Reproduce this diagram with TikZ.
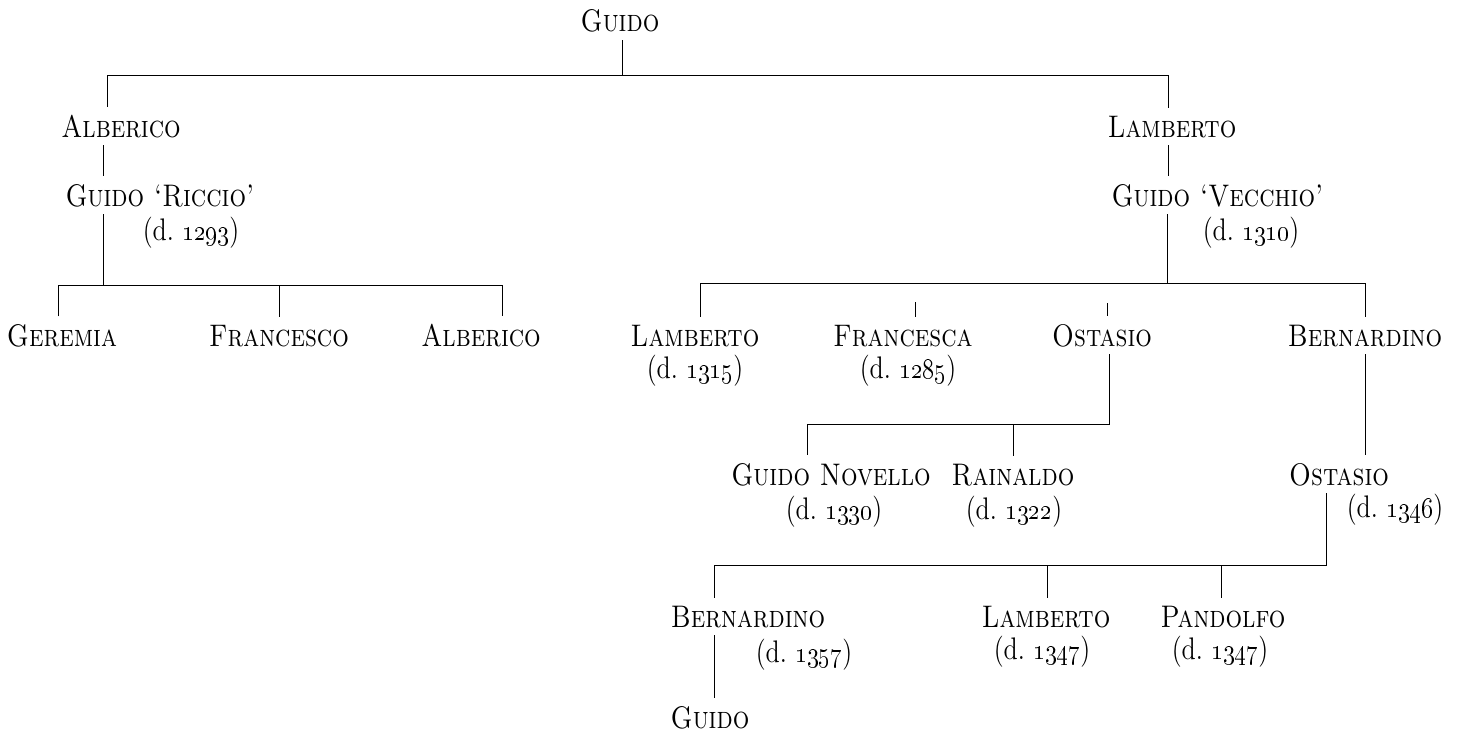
\documentclass[tikz,border=0pt]{standalone}
\usepackage{graphicx}
\usepackage{tikz}
\usetikzlibrary{calc,positioning}

\newcommand{\pname}[1]{\scalebox{1}[1.2]{\scshape #1}}
\newcommand{\pdied}[1]{\scalebox{1}[1.2]{(d.~\oldstylenums{#1})}}

\begin{document}
\begin{tikzpicture}[x=0.5pt,y=-0.5pt,line width=0.5pt,
    person/.style={inner xsep=0pt,inner ysep=3.6pt,anchor=base,font=\fontsize{13}{15}\selectfont},
    died/.style={person}]
  \useasboundingbox (0,0) rectangle (1466,733);

  % persons
  \node[person] (guido) at (620,32) {\pname{Guido}};
  \node[person] (alberico) at (121,137) {\pname{Alberico}};
  \node[person] (lamberto) at (1172,137) {\pname{Lamberto}};
  \node[person,anchor=base west] (riccio) at (65,206) {\pname{Guido `Riccio'}};
  \node[died] (riccio-d) at (191,240) {\pdied{1293}};
  \node[person,anchor=base west] (vecchio) at (1111,206) {\pname{Guido `Vecchio'}};
  \node[died] (vecchio-d) at (1251,240) {\pdied{1310}};

  \node[person] (geremia) at (62,346) {\pname{Geremia}};
  \node[person] (francesco) at (279,346) {\pname{Francesco}};
  \node[person] (alberico2) at (481,346) {\pname{Alberico}};

  \node[person] (lamberto2) at (695,346) {\pname{Lamberto}};
  \node[died] (lamberto2-d) at (695,378) {\pdied{1315}};
  \node[person] (francesca) at (903,346) {\pname{Francesca}};
  \node[died] (francesca-d) at (908,378) {\pdied{1285}};
  \node[person] (ostasio) at (1102,346) {\pname{Ostasio}};
  \node[person] (bernardino) at (1365,346) {\pname{Bernardino}};

  \node[person] (novello) at (831,485) {\pname{Guido Novello}};
  \node[died] (novello-d) at (834,519) {\pdied{1330}};
  \node[person] (rainaldo) at (1013,485) {\pname{Rainaldo}};
  \node[died] (rainaldo-d) at (1014,519) {\pdied{1322}};
  \node[person] (ostasio2) at (1339,485) {\pname{Ostasio}};
  \node[died] (ostasio2-d) at (1395,517) {\pdied{1346}};

  \node[person] (bernardino2) at (748,627) {\pname{Bernardino}};
  \node[died] (bernardino2-d) at (804,662) {\pdied{1357}};
  \node[person] (lamberto3) at (1046,627) {\pname{Lamberto}};
  \node[died] (lamberto3-d) at (1042,659) {\pdied{1347}};
  \node[person] (pandolfo) at (1223,627) {\pname{Pandolfo}};
  \node[died] (pandolfo-d) at (1220,659) {\pdied{1347}};
  \node[person] (guido3) at (710,728) {\pname{Guido}};

  % bars
  \coordinate (b1) at (622,76);
  \coordinate (b1l) at (107,76);
  \coordinate (b1r) at (1168,76);
  \coordinate (b2) at (103,285);
  \coordinate (b2l) at (58,285);
  \coordinate (b2r) at (502,285);
  \coordinate (b3) at (1167,283);
  \coordinate (b3l) at (700,283);
  \coordinate (b3r) at (1365,283);
  \coordinate (f-top) at (915,302);
  \coordinate (o-top) at (1107,303);
  \coordinate (b4) at (1109,424);
  \coordinate (b4l) at (807,424);
  \coordinate (b5) at (1326,565);
  \coordinate (b5l) at (714,565);
  \coordinate (l3-top) at (1047,565);
  \coordinate (p-top) at (1221,565);

  \draw (guido.south -| b1) -- (b1);
  \draw (b1l |- alberico.north) -- (b1l) -- (b1r) -- (b1r |- lamberto.north);

  \draw (alberico.south -| b2) -- (riccio.north -| b2);
  \draw (riccio.south -| b2) -- (b2);
  \draw (b2l |- geremia.north) -- (b2l) -- (b2r) -- (b2r |- alberico2.north);
  \draw (francesco.north |- b2) -- (francesco.north);

  \draw (lamberto.south -| b1r) -- (vecchio.north -| b1r);
  \draw (vecchio.south -| b3) -- (b3);
  \draw (b3l |- lamberto2.north) -- (b3l) -- (b3r) -- (bernardino.north);
  \draw (f-top) -- (f-top |- francesca.north);
  \draw (o-top) -- (o-top |- ostasio.north);

  \draw (ostasio.south -| b4) -- (b4) -- (b4l) -- (b4l |- novello.north);
  \draw (rainaldo.north |- b4) -- (rainaldo.north);

  \draw (bernardino.south) -- (bernardino.south |- ostasio2.north);
  \draw (ostasio2.south -| b5) -- (b5) -- (b5l) -- (b5l |- bernardino2.north);
  \draw (l3-top) -- (l3-top |- lamberto3.north);
  \draw (p-top) -- (p-top |- pandolfo.north);

  \draw (bernardino2.south -| b5l) -- (guido3.north -| b5l);
\end{tikzpicture}
\end{document}
